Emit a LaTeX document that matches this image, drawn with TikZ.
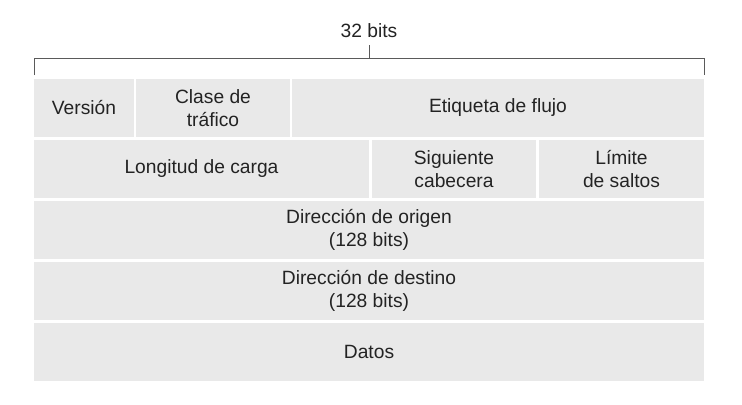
\documentclass[tikz,border=0pt]{standalone}
\usepackage{fontspec}
\setmainfont{Liberation Sans}
\definecolor{cellgray}{RGB}{233,233,233}
\definecolor{ink}{RGB}{35,35,35}
\definecolor{rulegray}{RGB}{90,90,90}

\begin{document}
\begin{tikzpicture}[x=1bp,y=-1bp,
  every node/.style={text=ink,font=\fontsize{19.3}{23.4}\selectfont},
  cell/.style={fill=cellgray,inner sep=0pt,align=center,minimum height=58bp},
  bracket/.style={draw=rulegray,line width=0.9bp}]

  \useasboundingbox (0,0) rectangle (742,404);

  %--- 32 bit ruler ---
  \node[anchor=base] (bits) at (369,37) {32 bits};
  \coordinate (bl) at (34,75);
  \coordinate (br) at (704,75);
  \coordinate (mid) at (369,58);
  \draw[bracket] (bl) -- ++(0,-17) -| (br);
  \draw[bracket] (mid) -- ++(0,-13);

  %--- Row 1 ---
  \node[cell,minimum width=100bp] (version) at (84,108) {Versión};
  \node[cell,minimum width=154bp] (clase) at (213,108) {Clase de\\tráfico};
  \node[cell,minimum width=412bp] (etiqueta) at (498,108) {Etiqueta de flujo};

  %--- Row 2 ---
  \node[cell,minimum width=335bp] (longitud) at (201.5,169) {Longitud de carga};
  \node[cell,minimum width=164bp] (siguiente) at (454,169) {Siguiente\\cabecera};
  \node[cell,minimum width=165bp] (limite) at (621.5,169) {Límite\\de saltos};

  %--- Addresses and payload ---
  \node[cell,minimum width=670bp] (origen) at (369,230) {Dirección de origen\\(128 bits)};
  \node[cell,minimum width=670bp] (destino) at (369,291) {Dirección de destino\\(128 bits)};
  \node[cell,minimum width=670bp] (datos) at (369,352) {Datos};

\end{tikzpicture}
\end{document}
